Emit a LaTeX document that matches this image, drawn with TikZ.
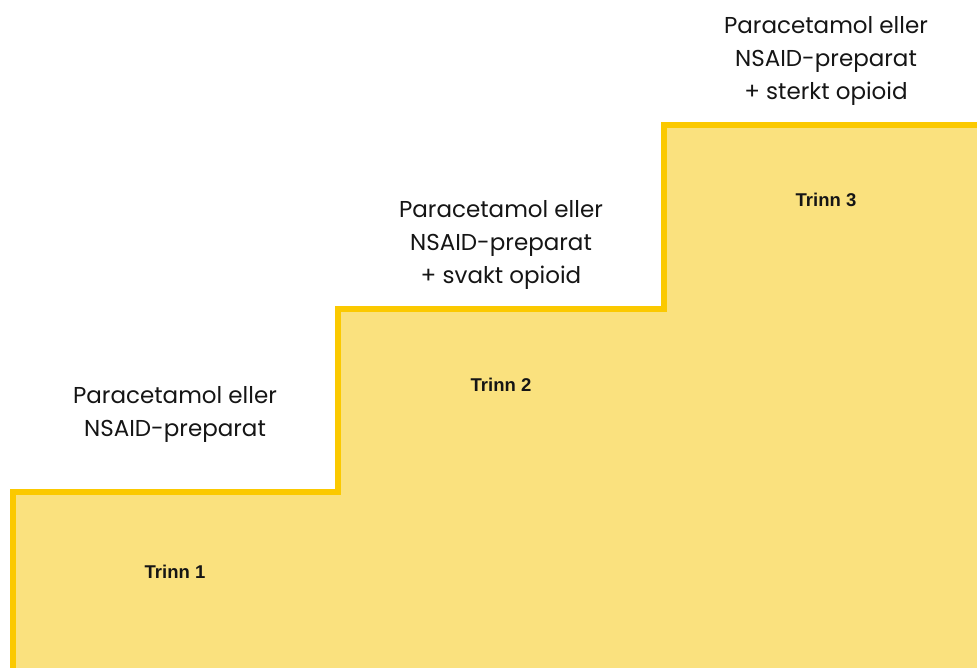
\documentclass[tikz,border=0pt]{standalone}
\usepackage{fontspec}
\setmainfont{Poppins}
\newfontfamily\trinnfont{Liberation Sans}
\definecolor{stepline}{HTML}{FBC900}
\definecolor{stepfill}{HTML}{FAE17E}
\definecolor{txt}{HTML}{151515}
\begin{document}
\begin{tikzpicture}[x=1pt,y=-1pt,
  desc/.style={align=center,font=\fontsize{23}{33}\selectfont,text=txt,inner sep=0pt},
  trinn/.style={font=\trinnfont\bfseries\fontsize{18.5}{22}\selectfont,text=txt,inner sep=0pt}]
\useasboundingbox (0,0) rectangle (977,668);
\coordinate (s0) at (13,668);
\coordinate (s1) at (13,491.5);
\coordinate (s2) at (338,491.5);
\coordinate (s3) at (338,309);
\coordinate (s4) at (663.5,309);
\coordinate (s5) at (663.5,124.7);
\coordinate (s6) at (977,124.7);
\fill[stepfill] (s0) -- (s1) -- (s2) -- (s3) -- (s4) -- (s5) -- (s6) -- (977,668) -- cycle;
\draw[stepline,line width=6pt,line join=miter] (s0) -- (s1) -- (s2) -- (s3) -- (s4) -- (s5) -- ([xshift=5pt]s6);
\node[trinn] (t1) at (175,572) {Trinn 1};
\node[trinn] (t2) at (501,385) {Trinn 2};
\node[trinn] (t3) at (826,200) {Trinn 3};
\node[desc] (d1) at (175,414.5) {Paracetamol eller\\NSAID-preparat};
\node[desc] (d2) at (501,245) {Paracetamol eller\\NSAID-preparat\\+ svakt opioid};
\node[desc] (d3) at (826,61) {Paracetamol eller\\NSAID-preparat\\+ sterkt opioid};
\end{tikzpicture}
\end{document}
